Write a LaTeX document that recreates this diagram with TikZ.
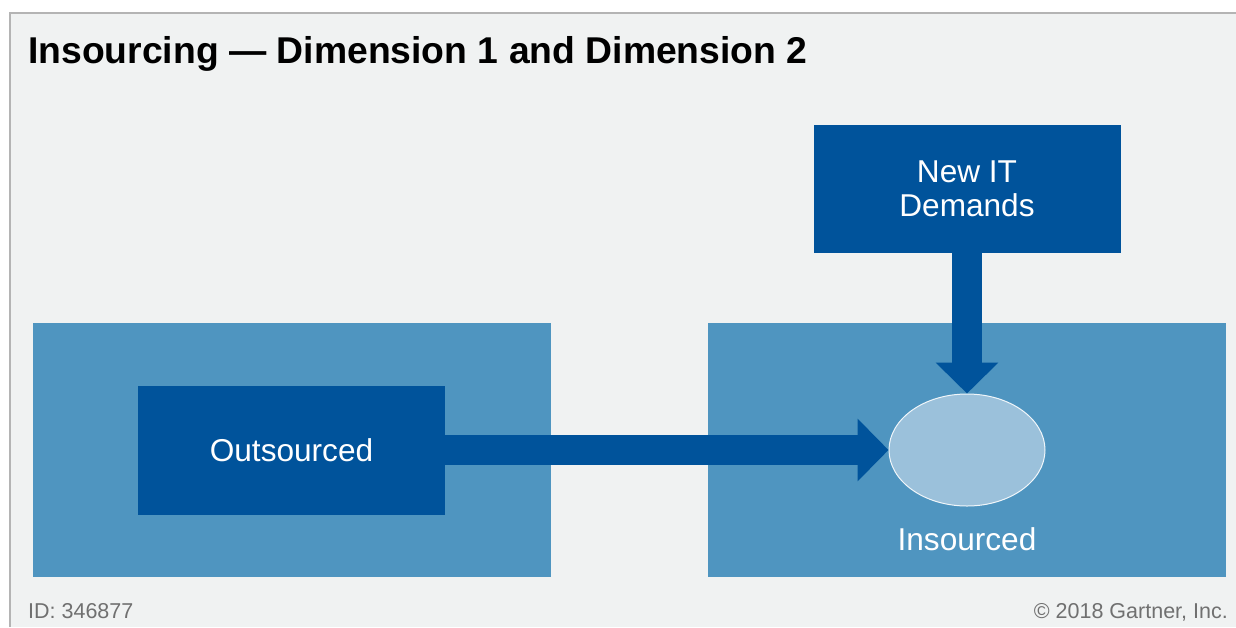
\documentclass[tikz,border=0pt]{standalone}
\usepackage{fontspec}
\setmainfont{Liberation Sans}
\usetikzlibrary{arrows.meta,shapes.geometric}
\definecolor{panelbg}{HTML}{F0F2F2}
\definecolor{framegrey}{HTML}{B4B4B4}
\definecolor{darkblue}{HTML}{00539B}
\definecolor{midblue}{HTML}{4F95C0}
\definecolor{paleblue}{HTML}{9BC1DB}
\definecolor{footgrey}{HTML}{707070}
\tikzset{
  zone/.style={fill=midblue, draw=none, minimum width=518pt, minimum height=254pt, inner sep=0pt},
  block/.style={fill=darkblue, draw=none, minimum width=307pt, minimum height=129pt, inner sep=0pt,
    text=white, align=center, font=\fontsize{31.6}{33.5}\selectfont},
  label/.style={text=white, inner sep=0pt, font=\fontsize{31.6}{33.5}\selectfont},
  flow/.style={draw=darkblue, line width=30pt, -{Triangle[width=61pt,length=31pt]}},
  foot/.style={text=footgrey, inner sep=0pt, font=\fontsize{21.5}{24}\selectfont}
}
\begin{document}
\begin{tikzpicture}[x=1pt,y=-1pt]
  \useasboundingbox (0,0) rectangle (1236,627);
  \fill[white] (0,0) rectangle (1236,627);
  % panel with grey rule on top and left
  \fill[panelbg] (10,13) rectangle (1236,627);
  \draw[framegrey, line width=1.5pt] (10,627) -- (10,13) -- (1236,13);

  % title
  \node[anchor=base west, inner sep=0pt, font=\bfseries\fontsize{37.3}{40}\selectfont] (title) at (28,63)
    {Insourcing — Dimension 1 and Dimension 2};

  % two zones
  \node[zone] (left) at (292,450) {};
  \node[zone] (right) at (967,450) {};

  % boxes
  \node[block] (outs) at (291.5,450) {Outsourced};
  \node[block, minimum height=128pt] (newit) at (967,189) {New IT\\Demands};

  % insourced target
  \node[ellipse, fill=paleblue, draw=white!85!paleblue, line width=1pt,
        minimum width=156pt, minimum height=112pt, inner sep=0pt] (ins) at (967,450) {};
  \node[label, anchor=base] (inslabel) at (967,550) {Insourced};

  % flows
  \draw[flow] (outs.east) -- (ins.west);
  \draw[flow] (newit.south) -- (ins.north);

  % footer
  \node[foot, anchor=base west] (id) at (28,618) {ID: 346877};
  \node[foot, anchor=base east] (copy) at (1228,618) {© 2018 Gartner, Inc.};
\end{tikzpicture}
\end{document}
